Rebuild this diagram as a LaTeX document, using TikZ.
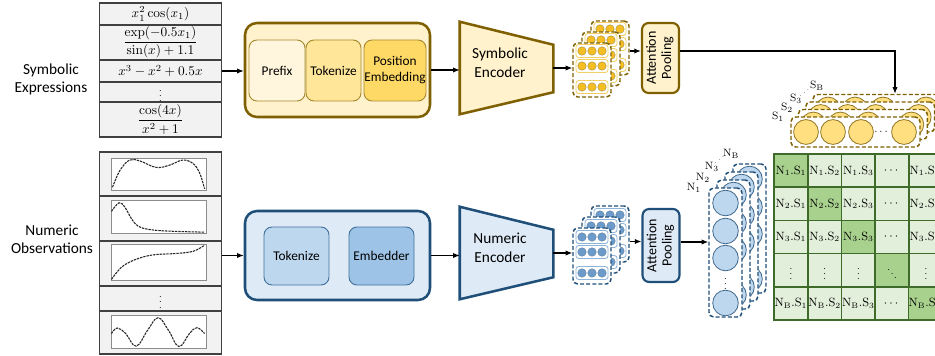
\documentclass[tikz,border=0pt]{standalone}
\usepackage{amsmath}
\usepackage[no-math]{fontspec}
\setmainfont{Carlito}
\usetikzlibrary{arrows.meta,calc}
\definecolor{goldD}{HTML}{7F6000}
\definecolor{goldL}{HTML}{FFF2CC}
\definecolor{goldP}{HTML}{FFF6DD}
\definecolor{goldT}{HTML}{FFE699}
\definecolor{goldE}{HTML}{FFD966}
\definecolor{goldI}{HTML}{A68B2E}
\definecolor{goldDot}{HTML}{F4BD22}
\definecolor{goldRow}{HTML}{F2CF63}
\definecolor{goldC}{HTML}{FFDF80}
\definecolor{blueD}{HTML}{1F4E79}
\definecolor{blueL}{HTML}{DEEBF7}
\definecolor{blueT}{HTML}{BDD7EE}
\definecolor{blueE}{HTML}{9DC3E6}
\definecolor{blueI}{HTML}{41719C}
\definecolor{blueDot}{HTML}{6B9ACB}
\definecolor{blueRow}{HTML}{8FB4DA}
\definecolor{grnD}{HTML}{3F6B2A}
\definecolor{grnL}{HTML}{E2EFDA}
\definecolor{grnM}{HTML}{A9D18E}
\definecolor{tabF}{HTML}{F2F2F2}
\definecolor{tabS}{HTML}{404040}
\def\PX{0.75pt}
\newcommand\smallvdots{{\fontsize{6.5}{6.5}\selectfont$\vdots$}}
% embedding card: name, cx, cy, height, border, row colour, dot colour
\newcommand\embcard[7]{%
  \node[card,draw=#5,minimum width=38*\PX,minimum height=#4*\PX] (#1) at (#2,#3) {};
  \foreach \dy in {-19,-4,17}{%
    \draw[draw=#6,fill=white,line width=0.6pt,rounded corners=2pt] ({#2-16},{#3+\dy-6.5}) rectangle ({#2+16},{#3+\dy+6.5});
    \foreach \dx in {-10,0,10}{\filldraw[fill=#7,draw=#5!70,line width=0.3pt] ({#2+\dx},{#3+\dy}) circle (3.2pt);}
  }
}
% S card (horizontal)
\newcommand\scard[3]{%
  \node[card,draw=goldD,minimum width=129*\PX,minimum height=30*\PX] (#1) at (#2,#3) {};
  \foreach \dx in {-49.5,-22.5,5.5,48.5}{\filldraw[fill=goldC,draw=goldD!85,line width=0.6pt] ({#2+\dx},#3) circle (9.3pt);}
}
% N card (vertical)
\newcommand\ncard[3]{%
  \node[card,draw=blueD,minimum width=33*\PX,minimum height=129*\PX] (#1) at (#2,#3) {};
  \foreach \dy in {-49.5,-21.5,5.5,50.5}{\filldraw[fill=blueT,draw=blueD!85,line width=0.6pt] (#2,{#3+\dy}) circle (9.6pt);}
}
\newcommand\mcell[4]{\node[cell,fill=#4] (m#1#2) at ({774+33.75*(#2-0.5)},{154+33.2*(#1-0.5)}) {#3};}
\begin{document}
\begin{tikzpicture}[x=0.75pt,y=-0.75pt,
 trow/.style={draw=tabS,fill=tabF,line width=0.8pt,minimum width=122*\PX,inner sep=0pt,outer sep=0pt,font=\fontsize{10}{11}\selectfont},
 pbox/.style={draw=black!45,fill=white,line width=0.7pt,inner sep=0pt,minimum width=95*\PX},
 grp/.style={align=center,font=\fontsize{11.5}{13.5}\selectfont},
 outer/.style={line width=1.9pt,rounded corners=9pt,minimum width=185*\PX,inner sep=0pt},
 innr/.style={rounded corners=6pt,line width=0.7pt,align=center,font=\fontsize{10}{12}\selectfont,inner sep=0pt},
 encb/.style={minimum width=93*\PX,minimum height=92*\PX,inner sep=0pt},
 enct/.style={align=center,font=\fontsize{11.5}{14}\selectfont},
 encs/.style={line width=1.9pt,line join=miter},
 apool/.style={rounded corners=5pt,line width=1.6pt,minimum width=37*\PX,inner sep=0pt,font=\fontsize{10.5}{11.5}\selectfont},
 arr/.style={-{Latex[length=5pt,width=4pt]},line width=0.9pt},
 card/.style={dash pattern=on 3pt off 1.6pt,fill=white,rounded corners=3.5pt,line width=1.1pt,inner sep=0pt},
 cell/.style={draw=grnD,line width=1.2pt,minimum width=33.75*\PX,minimum height=33.2*\PX,inner sep=0pt,font=\fontsize{9}{10}\selectfont},
 curve/.style={line width=0.8pt,black!85,dash pattern=on 1.8pt off 0.7pt},
 lab/.style={font=\fontsize{8.5}{9}\selectfont,inner sep=0pt},
 dotsl/.style={inner sep=0pt},
]
\useasboundingbox (0,0) rectangle (935,356);
\clip (0,0) rectangle (935,356);

% ---------- group labels ----------
\node[grp] (g1) at (51,79) {Symbolic\\Expressions};
\node[grp] (g2) at (52,239) {Numeric\\Observations};

% ---------- symbolic table ----------
\node[trow,minimum height=22*\PX] (r11) at (160.5,14) {$x_1^2\cos(x_1)$};
\node[trow,minimum height=35*\PX] (r12) at (160.5,42.5) {$\dfrac{\exp(-0.5x_1)}{\sin(x)+1.1}$};
\node[trow,minimum height=22*\PX] (r13) at (160.5,71) {$x^3-x^2+0.5x$};
\node[trow,minimum height=20*\PX] (r14) at (160.5,92) {\smallvdots};
\node[trow,minimum height=35*\PX] (r15) at (160.5,119.5) {$\dfrac{\cos(4x)}{x^2+1}$};

% ---------- numeric table ----------
\node[trow,minimum height=44*\PX] (r21) at (160.5,174) {};
\node[trow,minimum height=45*\PX] (r22) at (160.5,218.5) {};
\node[trow,minimum height=45*\PX] (r23) at (160.5,263.5) {};
\node[trow,minimum height=25*\PX] (r24) at (160.5,298.5) {\smallvdots};
\node[trow,minimum height=43*\PX] (r25) at (160.5,332.5) {};
\node[pbox,minimum height=32*\PX] (pl1) at (158.5,174) {};
\node[pbox,minimum height=33*\PX] (pl2) at (158.5,216.5) {};
\node[pbox,minimum height=36*\PX] (pl3) at (158.5,262) {};
\node[pbox,minimum height=33*\PX] (pl5) at (158.5,331.5) {};
\begin{scope}[shift={(pl1.south west)},x=71.25pt,y=24pt]
\draw[curve] plot[smooth,tension=0.6] coordinates {(0.02,0.1) (0.1,0.63) (0.2,0.95) (0.31,0.92) (0.48,0.72) (0.62,0.79) (0.76,0.95) (0.87,0.84) (0.94,0.53) (0.99,0.05)};
\end{scope}
\begin{scope}[shift={(pl2.south west)},x=71.25pt,y=24.75pt]
\draw[curve] plot[smooth,tension=0.6] coordinates {(0.01,0.67) (0.09,0.93) (0.15,0.8) (0.22,0.45) (0.29,0.22) (0.41,0.12) (0.62,0.07) (0.99,0.04)};
\end{scope}
\begin{scope}[shift={(pl3.south west)},x=71.25pt,y=27pt]
\draw[curve] plot[smooth,tension=0.6] coordinates {(0.01,0.03) (0.1,0.33) (0.2,0.51) (0.34,0.65) (0.48,0.72) (0.69,0.75) (0.87,0.81) (0.99,0.98)};
\end{scope}
\begin{scope}[shift={(pl5.south west)},x=71.25pt,y=24.75pt]
\draw[curve] plot[smooth,tension=0.7] coordinates {(0.01,0.45) (0.07,0.62) (0.16,0.45) (0.27,0.07) (0.39,0.55) (0.5,0.93) (0.61,0.55) (0.72,0.06) (0.83,0.45) (0.91,0.63) (0.99,0.45)};
\end{scope}

% ---------- symbolic preprocessing ----------
\node[outer,draw=goldD,fill=goldL,minimum height=94*\PX] (tb) at (337.5,70) {};
\node[innr,draw=goldI,fill=goldP,minimum width=56*\PX,minimum height=61*\PX] (pre) at (277,70.5) {Prefix};
\node[innr,draw=goldI,fill=goldT,minimum width=55*\PX,minimum height=61*\PX] (tok1) at (333.5,70.5) {Tokenize};
\node[innr,draw=goldI,fill=goldE,minimum width=62*\PX,minimum height=61*\PX] (pos) at (395,70.5) {Position\\Embedding};

% ---------- numeric preprocessing ----------
\node[outer,draw=blueD,fill=blueL,minimum height=89*\PX] (bb) at (337.5,255.5) {};
\node[innr,draw=blueI,fill=blueT,minimum width=65*\PX,minimum height=58*\PX] (tok2) at (296.5,256) {Tokenize};
\node[innr,draw=blueI,fill=blueE,minimum width=65*\PX,minimum height=58*\PX] (emb) at (381.5,256) {Embedder};

% ---------- encoders ----------
\node[encb] (enc1) at (506.5,68) {};
\draw[encs,draw=goldD,fill=goldL] (enc1.north west) -- ($(enc1.north east)+(0,23)$) -- ($(enc1.south east)+(0,-22)$) -- (enc1.south west) -- cycle;
\node[enct] (enc1t) at ($(enc1.center)+(-6.5,-5)$) {Symbolic\\Encoder};
\node[encb] (enc2) at (506.5,253) {};
\draw[encs,draw=blueD,fill=blueL] (enc2.north west) -- ($(enc2.north east)+(0,23)$) -- ($(enc2.south east)+(0,-22)$) -- (enc2.south west) -- cycle;
\node[enct] (enc2t) at ($(enc2.center)+(-6.5,-5)$) {Numeric\\Encoder};

% ---------- embedding stacks ----------
\embcard{ya3}{610}{48}{54}{goldD}{goldRow}{goldDot}
\embcard{ya2}{601}{59}{54}{goldD}{goldRow}{goldDot}
\embcard{ya1}{592}{70}{54}{goldD}{goldRow}{goldDot}
\node[dotsl,text=goldRow,font=\fontsize{4.5}{4.5}\selectfont] (yad) at ($(ya1.center)+(0,6.5)$) {$\vdots$};
\embcard{ba3}{610}{234}{56}{blueD}{blueRow}{blueDot}
\embcard{ba2}{601}{245}{56}{blueD}{blueRow}{blueDot}
\embcard{ba1}{592}{256}{56}{blueD}{blueRow}{blueDot}
\node[dotsl,text=red!50,font=\fontsize{4.5}{4.5}\selectfont] (bad) at ($(ba1.center)+(0,6.5)$) {$\vdots$};

% ---------- attention pooling ----------
\node[apool,draw=goldD,fill=goldL,minimum height=70*\PX] (ap1) at (660.5,58) {\rotatebox{90}{\begin{tabular}{@{}c@{}}Attention\\Pooling\end{tabular}}};
\node[apool,draw=blueD,fill=blueL,minimum height=73*\PX] (ap2) at (661,245.5) {\rotatebox{90}{\begin{tabular}{@{}c@{}}Attention\\Pooling\end{tabular}}};

% ---------- S stack ----------
\scard{sc4}{877.5}{109.5}
\scard{sc3}{870.2}{117}
\scard{sc2}{862.8}{124.5}
\scard{sc1}{855.5}{132}
\node[dotsl,font=\fontsize{8}{8}\selectfont] (scd) at ($(sc1.center)+(26.5,0)$) {$\cdots$};
\node[lab] (ls1) at (778,117) {$\mathrm{S}_1$};
\node[lab] (ls2) at (787,108) {$\mathrm{S}_2$};
\node[lab] (ls3) at (796,99) {$\mathrm{S}_3$};
\node[lab,rotate=40,font=\fontsize{5.5}{6}\selectfont] (lsd) at (805,93) {$\cdots$};
\node[lab] (lsb) at (817,86) {$\mathrm{S}_\mathrm{B}$};

% ---------- N stack ----------
\ncard{nc4}{749.5}{228.5}
\ncard{nc3}{741.5}{236.5}
\ncard{nc2}{733.5}{244.5}
\ncard{nc1}{725.5}{252.5}
\node[dotsl] (ncd) at ($(nc1.center)+(0,27.5)$) {\smallvdots};
\node[lab] (ln1) at (694,188) {$\mathrm{N}_1$};
\node[lab] (ln2) at (703,178) {$\mathrm{N}_2$};
\node[lab] (ln3) at (712,167) {$\mathrm{N}_3$};
\node[lab,rotate=40,font=\fontsize{5.5}{6}\selectfont] (lnd) at (720,160) {$\cdots$};
\node[lab] (lnb) at (731,154) {$\mathrm{N}_\mathrm{B}$};

% ---------- similarity matrix ----------
\mcell{1}{1}{$\mathrm{N}_1.\mathrm{S}_1$}{grnM}
\mcell{1}{2}{$\mathrm{N}_1.\mathrm{S}_2$}{grnL}
\mcell{1}{3}{$\mathrm{N}_1.\mathrm{S}_3$}{grnL}
\mcell{1}{4}{$\cdots$}{grnL}
\mcell{1}{5}{$\mathrm{N}_1.\mathrm{S}_\mathrm{B}$}{grnL}
\mcell{2}{1}{$\mathrm{N}_2.\mathrm{S}_1$}{grnL}
\mcell{2}{2}{$\mathrm{N}_2.\mathrm{S}_2$}{grnM}
\mcell{2}{3}{$\mathrm{N}_2.\mathrm{S}_3$}{grnL}
\mcell{2}{4}{$\cdots$}{grnL}
\mcell{2}{5}{$\mathrm{N}_2.\mathrm{S}_\mathrm{B}$}{grnL}
\mcell{3}{1}{$\mathrm{N}_3.\mathrm{S}_1$}{grnL}
\mcell{3}{2}{$\mathrm{N}_3.\mathrm{S}_2$}{grnL}
\mcell{3}{3}{$\mathrm{N}_3.\mathrm{S}_3$}{grnM}
\mcell{3}{4}{$\cdots$}{grnL}
\mcell{3}{5}{$\mathrm{N}_3.\mathrm{S}_\mathrm{B}$}{grnL}
\mcell{4}{1}{\smallvdots}{grnL}
\mcell{4}{2}{\smallvdots}{grnL}
\mcell{4}{3}{\smallvdots}{grnL}
\mcell{4}{4}{{\fontsize{6.5}{6.5}\selectfont$\ddots$}}{grnM}
\mcell{4}{5}{\smallvdots}{grnL}
\mcell{5}{1}{$\mathrm{N}_\mathrm{B}.\mathrm{S}_1$}{grnL}
\mcell{5}{2}{$\mathrm{N}_\mathrm{B}.\mathrm{S}_2$}{grnL}
\mcell{5}{3}{$\mathrm{N}_\mathrm{B}.\mathrm{S}_3$}{grnL}
\mcell{5}{4}{$\cdots$}{grnL}
\mcell{5}{5}{$\mathrm{N}_\mathrm{B}.\mathrm{S}_\mathrm{B}$}{grnM}

% ---------- connectors ----------
\draw[arr] (r13.east) -- (r13.east -| tb.west);
\draw[arr] (r23.east |- bb.west) -- (bb.west);
\draw[arr] (tb.east) -- (tb.east -| enc1.west);
\draw[arr] (bb.east) -- (bb.east -| enc2.west);
\draw[arr] (enc1.east) -- (enc1.east -| ya1.west);
\draw[arr] (enc2.east) -- (enc2.east -| ba1.west);
\coordinate (a1i) at ($(ap1.west)+(0,-7)$);
\coordinate (a1o) at ($(ap1.east)+(0,-7)$);
\coordinate (a2i) at ($(ap2.west)+(0,-4)$);
\coordinate (a2o) at ($(ap2.east)+(0,-3.5)$);
\draw[arr] (a1i -| ya3.east) -- (a1i);
\draw[arr] (a2i -| ba3.east) -- (a2i);
\draw[arr] (a1o) -| ($(sc4.north)+(17.5,0)$);
\draw[arr] (a2o) -- (a2o -| nc1.west);
\end{tikzpicture}
\end{document}
